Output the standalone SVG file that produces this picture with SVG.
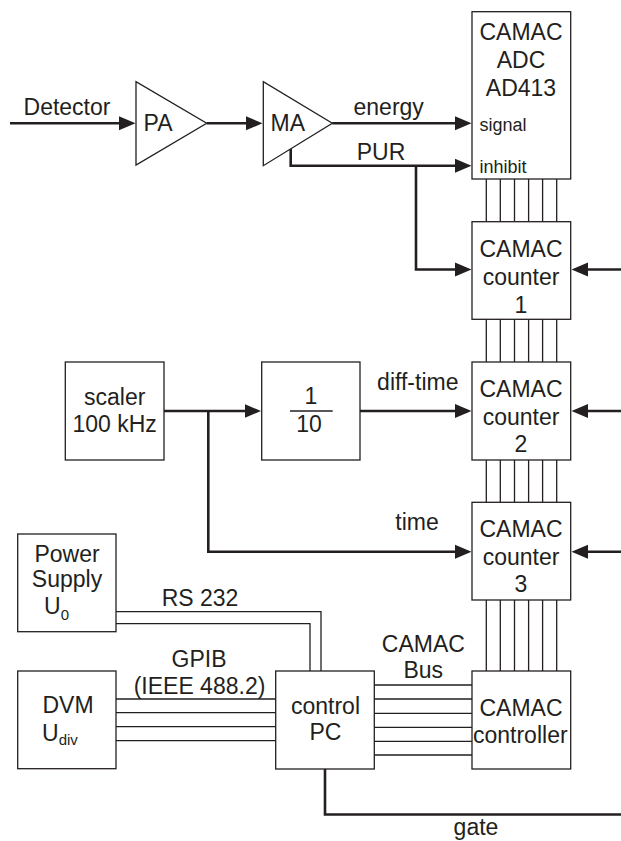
<svg xmlns="http://www.w3.org/2000/svg" width="621" height="841" viewBox="0 0 621 841">
<defs>
<style>
.box{fill:#fff;stroke:#231f20;stroke-width:1.3}
.thin{fill:none;stroke:#231f20;stroke-width:1.3}
.thick{fill:none;stroke:#231f20;stroke-width:2.6;marker-end:url(#arr)}
.plain{fill:none;stroke:#231f20;stroke-width:2.6}
text{font-family:"Liberation Sans",Arial,sans-serif;font-size:23px;fill:#231f20}
.c{text-anchor:middle}
.s{font-size:18px}
.sub{font-size:15px}
</style>
<marker id="arr" markerUnits="userSpaceOnUse" markerWidth="17" markerHeight="15" refX="8.5" refY="7" orient="auto" viewBox="0 0 17 14">
<path d="M0,0 L16.5,7 L0,14 z" fill="#231f20"/>
</marker>
</defs>
<rect width="621" height="841" fill="#fff"/>

<g id="connectors">
<path class="thick" d="M10,123.3 H127.5"/>
<path class="thick" d="M206.7,123.3 H254.5"/>
<path class="thick" d="M332.3,123.3 H463.5"/>
<path class="thick" d="M290.7,148.6 V165.7 H463.5"/>
<path class="thick" d="M416,165.7 V269.5 H463.5"/>
<path class="thick" d="M621,269.5 H579.5"/>
<path class="thick" d="M164,411 H253"/>
<path class="thick" d="M360,411 H463.5"/>
<path class="thick" d="M621,411 H579.5"/>
<path class="thick" d="M208.3,411 V551.7 H463.5"/>
<path class="thick" d="M621,551.7 H579.5"/>
<path class="plain" d="M325,769 V814.5 H621"/>
<path class="thin" d="M116,611.7 H321 V671"/>
<path class="thin" d="M116,623.7 H310 V671"/>
<path class="thin" d="M116,699 H276 M116,712.7 H276 M116,726.7 H276 M116,740.7 H276"/>
<path class="thin" d="M374,685 H472 M374,699 H472 M374,713.3 H472 M374,727.3 H472 M374,741.3 H472 M374,755 H472"/>
<path class="thin" d="M486.3,179 V221.7 M500.3,179 V221.7 M514.5,179 V221.7 M528.6,179 V221.7 M542.6,179 V221.7 M556.7,179 V221.7"/>
<path class="thin" d="M486.3,319.3 V362 M500.3,319.3 V362 M514.5,319.3 V362 M528.6,319.3 V362 M542.6,319.3 V362 M556.7,319.3 V362"/>
<path class="thin" d="M486.3,460 V502.3 M500.3,460 V502.3 M514.5,460 V502.3 M528.6,460 V502.3 M542.6,460 V502.3 M556.7,460 V502.3"/>
<path class="thin" d="M486.3,600 V671 M500.3,600 V671 M514.5,600 V671 M528.6,600 V671 M542.6,600 V671 M556.7,600 V671"/>
<text class="c" x="67" y="115">Detector</text>
<text class="c" x="388.7" y="115">energy</text>
<text class="c" x="381" y="160">PUR</text>
<text class="c" x="417.8" y="390">diff-time</text>
<text class="c" x="417" y="529.5">time</text>
<text class="c" x="200" y="606">RS 232</text>
<text class="c" x="199" y="666.7">GPIB</text>
<text class="c" x="199.5" y="694">(IEEE 488.2)</text>
<text class="c" x="423.3" y="652.3">CAMAC</text>
<text class="c" x="423.3" y="678.3">Bus</text>
<text class="c" x="476" y="835">gate</text>
</g>

<g id="PA">
<path class="box" d="M136,81.7 V165 L206.7,123.3 z"/>
<text x="143.5" y="131">PA</text>
</g>

<g id="MA">
<path class="box" d="M263.3,81.7 V165.7 L332.3,123.3 z"/>
<text x="270.5" y="131">MA</text>
</g>

<g id="ADC">
<rect class="box" x="472" y="11.7" width="98.7" height="167.3"/>
<text class="c" x="521" y="40">CAMAC</text>
<text class="c" x="521" y="68.3">ADC</text>
<text class="c" x="521" y="96">AD413</text>
<text class="s" x="479.5" y="130.7">signal</text>
<text class="s" x="479.5" y="172.7">inhibit</text>
</g>

<g id="counter1">
<rect class="box" x="472" y="221.7" width="98.7" height="97.6"/>
<text class="c" x="521" y="257.3">CAMAC</text>
<text class="c" x="521" y="285">counter</text>
<text class="c" x="521" y="312.7">1</text>
</g>

<g id="counter2">
<rect class="box" x="472" y="362" width="98.7" height="98"/>
<text class="c" x="521" y="397.3">CAMAC</text>
<text class="c" x="521" y="425">counter</text>
<text class="c" x="521" y="452.3">2</text>
</g>

<g id="counter3">
<rect class="box" x="472" y="502.3" width="98.7" height="97.7"/>
<text class="c" x="521" y="536.7">CAMAC</text>
<text class="c" x="521" y="565">counter</text>
<text class="c" x="521" y="591.7">3</text>
</g>

<g id="scaler">
<rect class="box" x="65.3" y="362" width="98.7" height="98"/>
<text class="c" x="114.7" y="405">scaler</text>
<text class="c" x="114.7" y="431.7">100 kHz</text>
</g>

<g id="divider">
<rect class="box" x="261.7" y="362" width="98.3" height="98"/>
<text class="c" x="311" y="404.3">1</text>
<path class="thin" d="M290,411 H332.7"/>
<text class="c" x="309" y="431.7">10</text>
</g>

<g id="powersupply">
<rect class="box" x="17.7" y="534" width="98.3" height="97.7"/>
<text class="c" x="67" y="562.3">Power</text>
<text class="c" x="67" y="586.7">Supply</text>
<text x="44" y="614">U<tspan class="sub" dy="6">0</tspan></text>
</g>

<g id="DVM">
<rect class="box" x="17.7" y="671" width="98.3" height="97.7"/>
<text class="c" x="68" y="712.7">DVM</text>
<text x="42" y="740.7">U<tspan class="sub" dy="4.5">div</tspan></text>
</g>

<g id="controlPC">
<rect class="box" x="275.7" y="671" width="98.6" height="98"/>
<text class="c" x="325.5" y="714.3">control</text>
<text class="c" x="325.5" y="740">PC</text>
</g>

<g id="controller">
<rect class="box" x="472" y="671" width="98.7" height="98"/>
<text class="c" x="521" y="715.7">CAMAC</text>
<text class="c" x="520.3" y="742.7">controller</text>
</g>
</svg>
